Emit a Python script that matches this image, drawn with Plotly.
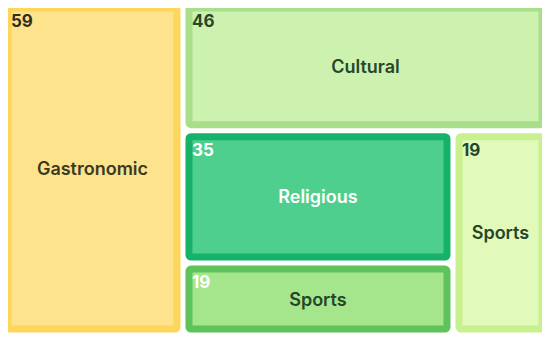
import plotly.graph_objects as go

# ---- data ----
categories = ["Gastronomic", "Cultural", "Religious", "Sports", "Sports"]
values = [59, 46, 35, 19, 19]
# nesting of the treemap (slice/dice arrangement)
groups = ["", "g1", "g3", "g3", "g2"]
group_ids = ["g1", "g2", "g3"]
group_parents = ["", "g1", "g2"]
# sibling order used when building the hierarchy
sequence = [("c", 0), ("g", 0), ("c", 1), ("g", 1), ("g", 2), ("c", 2), ("c", 3), ("c", 4)]

# ---- styles ----
outer_colors = ["#FDD65B", "#A9DE8A", "#17B26A", "#5DC35A", "#C9F08E"]
inner_colors = ["#FEE38D", "#CDF1AE", "#4FCF8D", "#A5E58C", "#E1FAB9"]
label_colors = ["#3A3A22", "#25482B", "#FFFFFF", "#25452A", "#25452A"]
value_colors = ["#2E2E1A", "#25482B", "#FFFFFF", "#FFFFFF", "#25452A"]
BORDER = 7
GAP = 5
CLEAR = "rgba(0,0,0,0)"

ids, labels, parents, vals = [], [], [], []
fill, line_c, line_w, lab_txt, val_txt, lab_col, val_col = [], [], [], [], [], [], []
for kind, i in sequence:
    if kind == "c":
        ids.append(f"c{i}")
        labels.append(categories[i])
        parents.append(groups[i])
        vals.append(values[i])
        fill.append(inner_colors[i])
        line_c.append(outer_colors[i])
        line_w.append(BORDER)
        lab_txt.append(categories[i])
        val_txt.append(str(values[i]))
        lab_col.append(label_colors[i])
        val_col.append(value_colors[i])
    else:
        ids.append(group_ids[i])
        labels.append("")
        parents.append(group_parents[i])
        vals.append(0)
        fill.append(CLEAR)
        line_c.append(CLEAR)
        line_w.append(0)
        lab_txt.append("")
        val_txt.append("")
        lab_col.append("#000000")
        val_col.append("#000000")

common = dict(
    ids=ids, labels=labels, parents=parents, values=vals,
    branchvalues="remainder", sort=False,
    tiling=dict(packing="slice-dice", pad=GAP + BORDER),
    pathbar=dict(visible=False), hoverinfo="skip",
    textinfo="text", root=dict(color=CLEAR),
)

tiles = go.Treemap(
    **common,
    marker=dict(colors=fill, line=dict(color=line_c, width=line_w),
                pad=dict(t=0, l=0, r=0, b=0), depthfade=False, cornerradius=2),
    text=lab_txt, textposition="middle center",
    textfont=dict(family="Inter", size=18, color=lab_col, weight=600),
)
numbers = go.Treemap(
    **common,
    marker=dict(colors=[CLEAR] * len(ids), line=dict(color=CLEAR, width=0),
                pad=dict(t=0, l=0, r=0, b=0), depthfade=False),
    text=val_txt, textposition="top left",
    textfont=dict(family="Inter", size=17, color=val_col, weight=700),
)

fig = go.Figure([tiles, numbers])
fig.update_layout(
    width=550, height=338,
    margin=dict(l=0, r=16, t=0, b=17),
    paper_bgcolor="white", plot_bgcolor="white",
    showlegend=False,
)
fig.write_html("out.html")
